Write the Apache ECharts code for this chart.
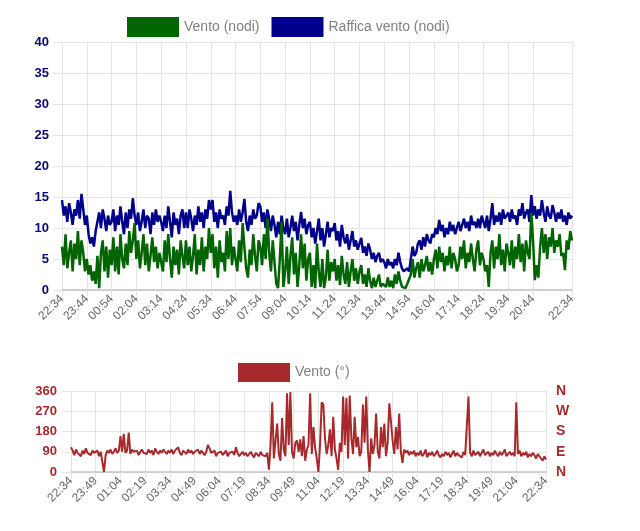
<!DOCTYPE html>
<html>
<head>
<meta charset="utf-8">
<script src="https://cdn.jsdelivr.net/npm/echarts@6/dist/echarts.min.js"></script>
<style>
html,body{margin:0;padding:0;background:#fff;}
#c{width:640px;height:531px;}
</style>
</head>
<body>
<div id="c"></div>
<script>
// ---- data ----
var startTime = '22:34';
var stepMinutes = 5;
var pointCount = 289;

var gust = [
14.5,12,13.5,11,14,12.5,10.5,13,12,14.5,11.5,15.5,13,10.5,
12,9,7.5,8.5,7,9.5,11,12.5,10,13,11.5,9.5,12,10.5,
11,13,9.5,12,10.5,13.5,11,9,12.5,10,13,11.5,14.8,12,
10.5,12.5,9.5,11,13,10,12,11.5,9,12.5,10.5,13,11,12,
11,9.5,12,10,13.5,11,8.5,12.5,10.5,11.5,9,12,13,10,
12.5,10,13,11.5,9.5,12,10.5,13.5,11,12.5,10,13,11.5,14.5,
13,14.5,11,12.5,10,13,11.5,12,10.5,13.5,12,16,12.5,11,
12,10.5,13,11,12.5,14.7,11,9.5,12,10.5,13,11.5,12,14,
13.5,11,12.5,10,13,11.5,9.5,12,10.5,8.5,11,9,12,10,
9,11.5,8.5,10,12,9.5,11,8,10.5,12.6,10,11.5,9,10.5,
11,8.5,10,7.5,9.5,11.5,8,10,7,9,11,8.5,10,9.5,
10.8,8,9.5,7,10.5,8.5,7.5,9,6.5,8,9.5,7,8,6.5,
7.5,8.4,6,7,5.5,7.5,6.5,5,6,4.5,5.5,6,4.5,5,
4.5,3.5,5,4,4.5,3.5,5,4,6,4.5,3.5,3,2.7,3.5,
3,5,7,5.5,6,7.5,8,6.5,8.5,7,9,8,7.5,9,
8.5,10,9,11.3,9.5,10.5,8.5,10,9,11,9.5,10.5,9,10,
11,9.5,10.5,11.5,10,11,9.5,12,10.5,11,10,11.5,10,12,
11,10,12,9.5,11.5,14,10.5,12,11,12.5,10.5,13,11.5,12,
12.5,11,13,11.5,12,10.5,13,12,14,11.5,12.5,13,11,15.3,
12,13.5,11.5,13,12,14.5,12.5,11,13.5,12,11.5,13.7,12.5,11,
12.5,11.5,13,11,12,10.5,12.5,11.5,12
];

var wind = [
7,4,9,3.5,6,8,3,7.5,5,9.5,4,8,6,3,
5,2.5,4,1.5,3,1,5.5,0.3,6,8,3,7,2,6.5,
4,8.5,3,7,2.5,9,5,3.5,7.5,4,9.5,6,8,10.8,
5,8,3.5,6,9,4,7.5,3,5.5,8.5,4.5,7,3.5,6,
6,3,8,4.5,9,5,2,7,4,6.5,2.5,8,5.5,3.5,
8,4,7,3,5.5,9,2.5,6.5,4,8.5,3,7,5,10,
6,9,3.5,7,2,8,4.5,6,3,9.5,5,10,4,7,
5,3,8,4.5,10.8,7,3.5,2,6.5,4,9,5.5,3,8,
7,4,9,5,11.6,6,3,8,4.5,1,0.3,5,11,0.5,
3,7,1,5.5,8.5,2.5,6,0.5,4,9,3.5,7.5,1.5,5,
6,0.5,4,0.3,7.5,3,0.5,5,0.3,2,6.5,1.5,4.5,3,
5,1.5,4,0.8,5.5,2.5,1,4.5,0.5,3,5,1.5,3.5,1,
3,4,1,2.5,0.5,3.5,1.5,0.3,2,0.5,1.5,2.5,0.5,1,
1,0.5,2,0.5,1.5,0.3,2.5,1,3,1.5,0.5,0.5,0.3,1,
1,2.5,5,2,3.5,4.5,2,5,3,4,5.5,3,4.5,2.5,
5,6.5,3.5,7,4.5,6,3,5.5,4,7,3.5,6,5,3,
4,7,5,8,3.5,6,4.5,7.5,5,3,6.5,8,4,6,
5,3,4,0.5,6,8,3.5,7,5,9,4,6.5,3,7.5,
6,4,8,3.5,7,5,9,4.5,7.5,3,8,6,5,12.4,
8,1.6,4,2,7,10,6,9,5,8.5,7,10,6,8,
7,9,5.5,6,3.2,8,6.5,9.5,8
];

var direction = [
110,95,75,100,85,90,70,95,80,105,85,90,75,95,85,
80,95,70,90,85,0,75,95,85,100,80,90,105,85,95,
160,90,170,85,95,175,80,100,90,85,95,75,90,100,85,
90,80,100,85,95,75,105,90,80,95,85,100,90,80,95,
85,100,80,95,90,110,85,75,95,90,80,100,85,95,80,
90,85,100,80,95,85,75,90,120,105,85,80,95,70,85,
80,90,75,85,95,70,85,80,90,75,110,85,70,80,90,
75,85,70,80,90,75,65,85,80,70,90,75,80,70,85,
10,120,310,60,140,215,80,50,240,100,70,350,120,355,90,
60,130,140,90,145,70,160,50,100,120,350,80,200,110,60,
0,120,310,300,150,80,120,190,70,245,100,60,10,130,90,
335,120,330,60,340,150,80,245,110,155,70,90,300,130,335,
100,0,150,80,120,260,90,60,200,110,215,70,130,305,300,
140,80,200,100,260,90,40,100,85,95,75,90,80,95,70,
85,75,95,70,80,100,65,85,75,90,70,80,95,75,65,
80,70,90,75,85,65,80,95,70,85,75,80,65,90,75,
80,335,85,70,95,75,80,90,70,85,100,75,80,90,70,
85,75,95,80,70,90,75,85,100,70,80,90,75,85,70,
310,80,95,70,85,75,90,65,80,70,85,75,60,80,70,
65,50,70,55
];

var speedTicks = [0,5,10,15,20,25,30,35,40];
var dirTicks = [0,90,180,270,360];
var dirNames = {0:'N',90:'E',180:'S',270:'W',360:'N'};
var seriesNames = ['Vento (nodi)','Raffica vento (nodi)','Vento (°)'];
var colors = {wind:'#006400', gust:'#00008b', dir:'#a8292b'};

// categories (5-minute time stamps)
var times = [];
(function(){
  var p = startTime.split(':');
  var m = parseInt(p[0],10)*60 + parseInt(p[1],10);
  for (var i=0;i<pointCount;i++){
    var t = (m + i*stepMinutes) % 1440;
    var h = Math.floor(t/60), mm = t%60;
    times.push((h<10?'0':'')+h+':'+(mm<10?'0':'')+mm);
  }
})();

var last = pointCount-1;
function topShow(i){ return (i%14===0 && i<=266) || i===last; }
function botShow(i){ return (i%15===0 && i<=270) || i===last; }

var gridColor = '#e4e4e4';
var xLabel = {rotate:45, color:'#666', fontSize:12, fontFamily:'Liberation Sans, Arial, sans-serif', margin:7};

var chart = echarts.init(document.getElementById('c'), null, {renderer:'canvas'});
chart.setOption({
  animation:false,
  backgroundColor:'#fff',
  legend:[{
    data:[seriesNames[0], seriesNames[1]],
    left:127, top:17, itemWidth:52, itemHeight:20, itemGap:12, padding:0,
    icon:'rect',
    textStyle:{color:'#808080', fontSize:14, fontFamily:'Liberation Sans, Arial, sans-serif'},
    selectedMode:false
  },{
    data:[seriesNames[2]],
    left:238, top:363, itemWidth:52, itemHeight:19, padding:0,
    icon:'rect',
    textStyle:{color:'#808080', fontSize:14, fontFamily:'Liberation Sans, Arial, sans-serif'},
    selectedMode:false
  }],
  grid:[
    {left:62, right:68, top:42, height:248, containLabel:false},
    {left:71, right:94, top:391, height:81, containLabel:false}
  ],
  xAxis:[{
    type:'category', gridIndex:0, data:times, boundaryGap:false,
    axisLine:{show:true, lineStyle:{color:'#c4c4c4', width:1.5}},
    axisTick:{show:true, interval:function(i){return topShow(i);}, length:6, lineStyle:{color:gridColor}},
    axisLabel:Object.assign({interval:function(i){return topShow(i);}}, xLabel),
    splitLine:{show:true, interval:function(i){return topShow(i);}, lineStyle:{color:gridColor}}
  },{
    type:'category', gridIndex:1, data:times, boundaryGap:false,
    axisLine:{show:true, lineStyle:{color:'#c4c4c4', width:1.5}},
    axisTick:{show:true, interval:function(i){return botShow(i);}, length:6, lineStyle:{color:gridColor}},
    axisLabel:Object.assign({interval:function(i){return botShow(i);}}, xLabel),
    splitLine:{show:true, interval:function(i){return botShow(i);}, lineStyle:{color:gridColor}}
  }],
  yAxis:[{
    type:'value', gridIndex:0, min:speedTicks[0], max:speedTicks[speedTicks.length-1], interval:5,
    axisLine:{show:true, lineStyle:{color:gridColor}},
    axisTick:{show:true, length:9, lineStyle:{color:gridColor}},
    axisLabel:{color:'#0a0a6e', fontWeight:'bold', fontSize:13, fontFamily:'Liberation Sans, Arial, sans-serif', margin:13},
    splitLine:{show:true, lineStyle:{color:gridColor}}
  },{
    type:'value', gridIndex:1, min:dirTicks[0], max:dirTicks[dirTicks.length-1], interval:90,
    axisLine:{show:true, lineStyle:{color:gridColor}},
    axisTick:{show:true, length:9, lineStyle:{color:gridColor}},
    axisLabel:{color:colors.dir, fontWeight:'bold', fontSize:13, fontFamily:'Liberation Sans, Arial, sans-serif', margin:14},
    splitLine:{show:true, lineStyle:{color:gridColor}}
  },{
    type:'value', gridIndex:1, position:'right', min:dirTicks[0], max:dirTicks[dirTicks.length-1], interval:90,
    axisLine:{show:true, lineStyle:{color:gridColor}},
    axisTick:{show:false},
    axisLabel:{color:colors.dir, fontWeight:'bold', fontSize:14, fontFamily:'Liberation Sans, Arial, sans-serif', margin:10,
      formatter:function(v){ return dirNames[v]; }},
    splitLine:{show:false}
  }],
  series:[{
    name:seriesNames[1], type:'line', xAxisIndex:0, yAxisIndex:0, data:gust,
    showSymbol:false, symbol:'none', color:colors.gust,
    lineStyle:{width:2.5, color:colors.gust}
  },{
    name:seriesNames[0], type:'line', xAxisIndex:0, yAxisIndex:0, data:wind,
    showSymbol:false, symbol:'none', color:colors.wind,
    lineStyle:{width:2.5, color:colors.wind}
  },{
    name:seriesNames[2], type:'line', xAxisIndex:1, yAxisIndex:1, data:direction,
    showSymbol:false, symbol:'none', color:colors.dir,
    lineStyle:{width:2, color:colors.dir}
  }]
});
</script>
</body>
</html>
